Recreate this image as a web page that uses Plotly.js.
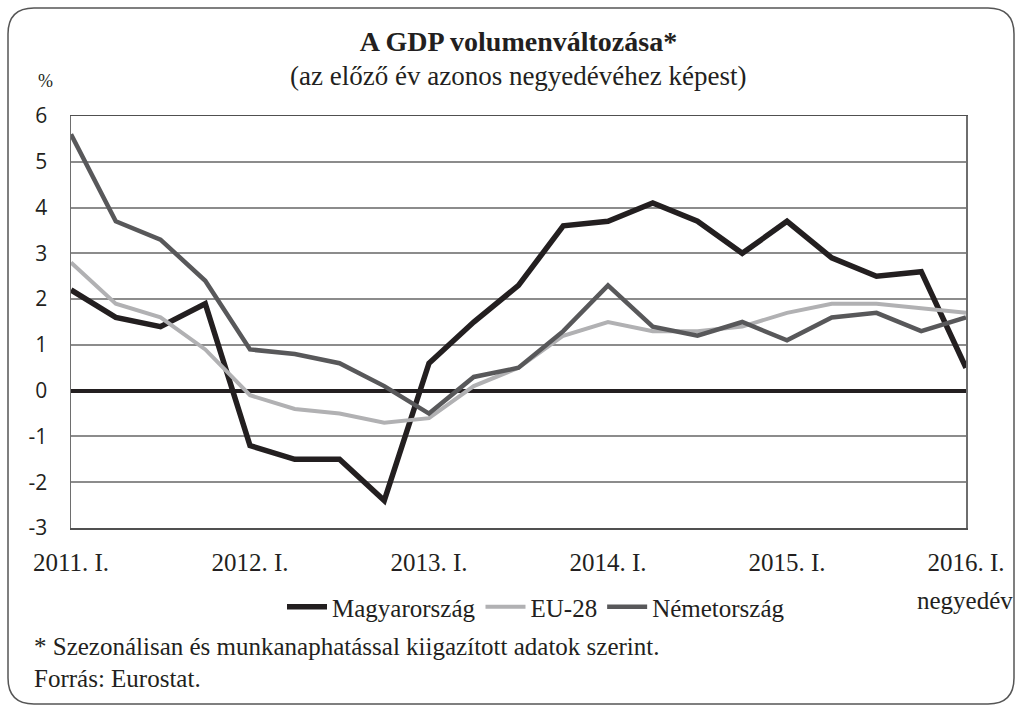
<!DOCTYPE html>
<html>
<head>
<meta charset="utf-8">
<script src="https://cdn.plot.ly/plotly-3.0.1.min.js"></script>
<style>html,body{margin:0;padding:0;background:#fff;}#chart{width:1022px;height:710px;}</style>
</head>
<body>
<div id="chart"></div>
<script>
const quarters = [
  "2011. I.","2011. II.","2011. III.","2011. IV.",
  "2012. I.","2012. II.","2012. III.","2012. IV.",
  "2013. I.","2013. II.","2013. III.","2013. IV.",
  "2014. I.","2014. II.","2014. III.","2014. IV.",
  "2015. I.","2015. II.","2015. III.","2015. IV.",
  "2016. I."
];
const tickLabels = ["2011. I.","2012. I.","2013. I.","2014. I.","2015. I.","2016. I."];
const yTickVals = [-3,-2,-1,0,1,2,3,4,5,6];
const yTickText = ["-3","-2","-1","0","1","2","3","4","5","6"];
const hungary = [2.2,1.6,1.4,1.9, -1.2,-1.5,-1.5,-2.4, 0.6,1.5,2.3,3.6, 3.7,4.1,3.7,3.0, 3.7,2.9,2.5,2.6, 0.5];
const eu28    = [2.8,1.9,1.6,0.9, -0.1,-0.4,-0.5,-0.7, -0.6,0.1,0.5,1.2, 1.5,1.3,1.3,1.4, 1.7,1.9,1.9,1.8, 1.7];
const germany = [5.6,3.7,3.3,2.4, 0.9,0.8,0.6,0.1, -0.5,0.3,0.5,1.3, 2.3,1.4,1.2,1.5, 1.1,1.6,1.7,1.3, 1.6];
const seriesNames = ["Magyarország","EU-28","Németország"];

const W = 1022, H = 710;
const L = 71, R = 966, T = 116, B = 528;
const px = x => (x - L) / (R - L);
const py = y => (B - y) / (B - T);

const serif = "Liberation Serif, Times New Roman, serif";
const sans = "Open Sans, Noto Sans, sans-serif";

const traces = [
  {x: quarters, y: hungary, name: seriesNames[0], type: "scatter", mode: "lines",
   line: {color: "#231f20", width: 5.5}},
  {x: quarters, y: eu28, name: seriesNames[1], type: "scatter", mode: "lines",
   line: {color: "#b1b1b3", width: 4}},
  {x: quarters, y: germany, name: seriesNames[2], type: "scatter", mode: "lines",
   line: {color: "#58585a", width: 4.5}}
];

// rounded frame path in paper coords
const fx0 = px(8), fx1 = px(1014), fy0 = py(704), fy1 = py(8);
const rx = 26 / (R - L), ry = 26 / (B - T);
const framePath =
  `M ${fx0+rx},${fy1} L ${fx1-rx},${fy1} Q ${fx1},${fy1} ${fx1},${fy1-ry} ` +
  `L ${fx1},${fy0+ry} Q ${fx1},${fy0} ${fx1-rx},${fy0} ` +
  `L ${fx0+rx},${fy0} Q ${fx0},${fy0} ${fx0},${fy0+ry} ` +
  `L ${fx0},${fy1-ry} Q ${fx0},${fy1} ${fx0+rx},${fy1} Z`;

const layout = {
  width: W, height: H,
  margin: {l: L, r: W - R, t: T, b: H - B},
  paper_bgcolor: "#fff", plot_bgcolor: "#fff",
  showlegend: true,
  title: {text: "<b>A GDP volumenváltozása*</b>", x: 0.5, xref: "paper",
          y: 1 - 41 / H, yanchor: "middle",
          font: {family: serif, size: 28, color: "#231f20"}},
  xaxis: {
    type: "category", categoryorder: "array", categoryarray: quarters,
    range: [0, quarters.length - 1],
    tickmode: "array", tickvals: tickLabels, ticktext: tickLabels,
    ticks: "outside", ticklen: 11, tickcolor: "rgba(0,0,0,0)",
    tickfont: {family: serif, size: 25, color: "#231f20"},
    showgrid: false, zeroline: false,
    showline: true, mirror: true, linecolor: "#505050", linewidth: 1.5
  },
  xaxis2: {
    type: "linear", overlaying: "x", anchor: "free", position: 1 / 3, side: "bottom",
    range: [0, quarters.length - 1], tick0: 0, dtick: 1,
    ticks: "outside", ticklen: 5, tickwidth: 1.5, tickcolor: "#6e6e6e",
    showticklabels: false, showgrid: false, zeroline: false, showline: false
  },
  yaxis: {
    range: [-3, 6], tickmode: "array", tickvals: yTickVals, ticktext: yTickText,
    ticks: "outside", ticklen: 18, tickcolor: "rgba(0,0,0,0)",
    tickfont: {family: sans, size: 21, color: "#231f20"},
    showgrid: true, gridcolor: "#8c8c8c", gridwidth: 2,
    zeroline: true, zerolinecolor: "#231f20", zerolinewidth: 4,
    showline: true, mirror: true, linecolor: "#6e6e6e", linewidth: 1.5
  },
  legend: {
    orientation: "h", x: px(536), y: py(607), xanchor: "center", yanchor: "middle",
    font: {family: serif, size: 25, color: "#231f20"},
    itemwidth: 40, tracegroupgap: 0, bgcolor: "rgba(0,0,0,0)"
  },
  annotations: [
    {text: "(az előző év azonos negyedévéhez képest)", xref: "paper", yref: "paper",
     x: 0.5, y: py(76), xanchor: "center", yanchor: "middle", showarrow: false,
     font: {family: serif, size: 27, color: "#231f20"}},
    {text: "%", xref: "paper", yref: "paper", x: px(45), y: py(81),
     xanchor: "center", yanchor: "middle", showarrow: false,
     font: {family: serif, size: 18, color: "#231f20"}},
    {text: "negyedév", xref: "paper", yref: "paper", x: px(965), y: py(600),
     xanchor: "center", yanchor: "middle", showarrow: false,
     font: {family: serif, size: 25, color: "#231f20"}},
    {text: "* Szezonálisan és munkanaphatással kiigazított adatok szerint.", xref: "paper", yref: "paper",
     x: px(32), y: py(646), xanchor: "left", yanchor: "middle", showarrow: false,
     font: {family: serif, size: 25, color: "#231f20"}},
    {text: "Forrás: Eurostat.", xref: "paper", yref: "paper",
     x: px(32), y: py(678), xanchor: "left", yanchor: "middle", showarrow: false,
     font: {family: serif, size: 25, color: "#231f20"}}
  ],
  shapes: [
    {type: "path", xref: "paper", yref: "paper", path: framePath,
     line: {color: "#555", width: 1.5}, fillcolor: "rgba(0,0,0,0)", layer: "below"}
  ]
};

Plotly.newPlot("chart", traces, layout, {staticPlot: true, displayModeBar: false});
</script>
</body>
</html>
